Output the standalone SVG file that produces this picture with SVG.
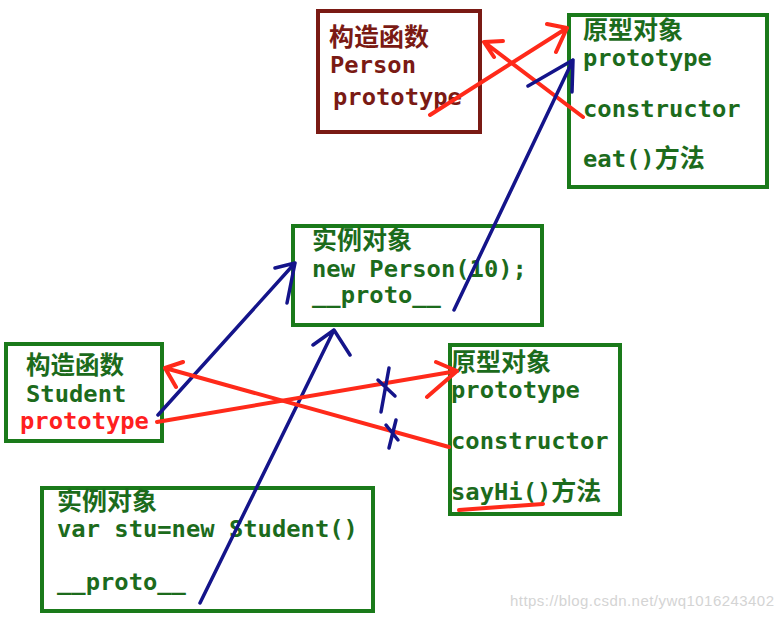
<svg xmlns="http://www.w3.org/2000/svg" width="783" height="618" viewBox="0 0 783 618">
<style>
.bg{fill:#ffffff}
.g{fill:none;stroke:#1a7a1a;stroke-width:4}
.dr{fill:none;stroke:#7a1a14;stroke-width:4}
text{font-family:"DejaVu Sans Mono","Noto Sans CJK SC",monospace;font-size:23.8px;font-weight:bold}
.cjk{font-family:"Noto Sans CJK SC",sans-serif;font-size:25px;font-weight:bold}
.tg{fill:#1c6b1c}
.tr{fill:#7a1a14}
.tred{fill:#ff2020}
.red{fill:none;stroke:#ff2a1a;stroke-width:4;stroke-linecap:round;stroke-linejoin:round}
.blue{fill:none;stroke:#14148a;stroke-width:3.5;stroke-linecap:round;stroke-linejoin:round}
.wm{font-family:"Liberation Sans",sans-serif;font-size:15px;font-weight:normal;fill:#d4d4d4}
</style>
<rect class="bg" x="0" y="0" width="783" height="618"/>

<g id="person-ctor">
<rect class="dr" x="318" y="11" width="162" height="121"/>
<text class="cjk tr" x="329" y="46">构造函数</text>
<text class="tr" x="330" y="73">Person</text>
<text class="tr" x="333" y="105">prototype</text>
</g>

<g id="person-proto">
<rect class="g" x="569" y="15" width="198" height="172"/>
<text class="cjk tg" x="583" y="39">原型对象</text>
<text class="tg" x="583" y="66">prototype</text>
<text class="tg" x="583" y="117">constructor</text>
<text class="tg" x="583" y="167">eat()<tspan class="cjk">方法</tspan></text>
</g>

<g id="person-instance">
<rect class="g" x="293" y="226" width="249" height="99"/>
<text class="cjk tg" x="312" y="249">实例对象</text>
<text class="tg" x="312" y="277">new Person(10);</text>
<text class="tg" x="312" y="303">__proto__</text>
</g>

<g id="student-ctor">
<rect class="g" x="6" y="344" width="156" height="97"/>
<text class="cjk tg" x="26" y="374" style="font-size:24.5px">构造函数</text>
<text class="tg" x="26" y="402">Student</text>
<text class="tred" x="20" y="429">prototype</text>
</g>

<g id="student-proto">
<rect class="g" x="450" y="345" width="170" height="169"/>
<text class="cjk tg" x="451" y="371">原型对象</text>
<text class="tg" x="451" y="398">prototype</text>
<text class="tg" x="451" y="449">constructor</text>
<text class="tg" x="451" y="500">sayHi()<tspan class="cjk">方法</tspan></text>
</g>

<g id="student-instance">
<rect class="g" x="42" y="488" width="331" height="123"/>
<text class="cjk tg" x="57" y="510">实例对象</text>
<text class="tg" x="57" y="537">var stu=new Student()</text>
<text class="tg" x="57" y="590">__proto__</text>
</g>

<g id="connectors">
<path class="red" d="M430,115 L567,28 M547,24 L567,28 L556,52"/>
<path class="red" d="M583,117 L484,42 M484,42 L503,41 M484,42 L494,57"/>
<path class="blue" d="M454,310 L573,60 M528,86 L573,60 L572,92"/>
<path class="blue" d="M158,415 L295,263 M275,268 L295,263 L287,303"/>
<path class="blue" d="M200,603 L334,330 M313,345 L334,330 L350,355"/>
<path class="red" d="M157,422 L457,371 M436,362 L457,371 L427,397"/>
<path class="red" d="M449,447 L165,368 M183,362 L165,368 L176,387"/>
<path class="blue" d="M389,368 L381,412 M378,380 L395,396"/>
<path class="blue" d="M386,425 L398,440 M396,420 L389,448"/>
<path class="red" d="M459,510 L543,504"/>
</g>

<text class="wm" x="510" y="606" textLength="264">https://blog.csdn.net/ywq1016243402</text>
</svg>
